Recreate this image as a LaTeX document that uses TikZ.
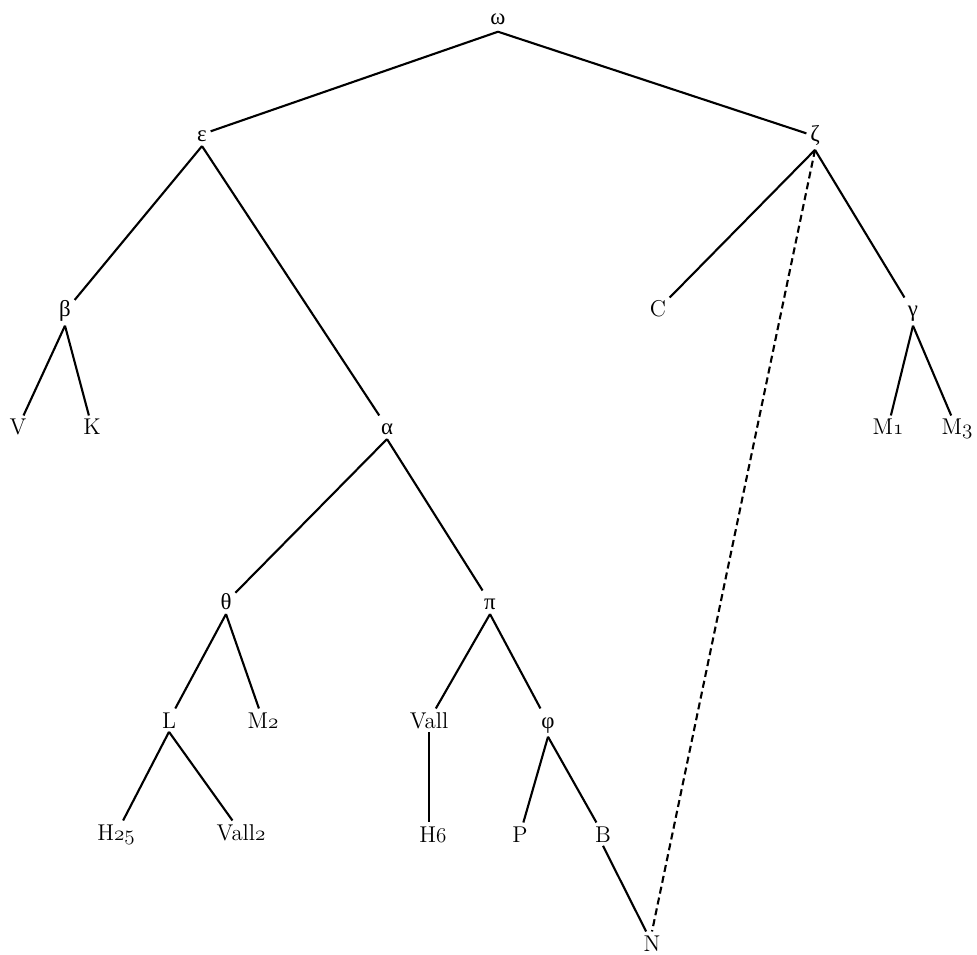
\documentclass[tikz,border=0pt]{standalone}
\usepackage{amsmath}
\usepackage{fontspec}
\usepackage{tikz}
\usetikzlibrary{positioning}

\newfontfamily\grk{Liberation Serif}
\newcommand{\wit}[2]{#1$\mathnormal{#2}$}

\begin{document}
\begin{tikzpicture}[
    x=0.02cm, y=-0.02cm,
    ms/.style={anchor=base, inner sep=2pt, text height=8.9pt, font=\fontsize{13}{15}\selectfont},
    hyp/.style={ms, font=\fontsize{13}{15}\selectfont\grk},
    stem/.style={draw=black, line width=1.2pt},
    lost/.style={draw=black, line width=1.2pt, dash pattern=on 4pt off 2.3pt}
]
    \useasboundingbox (0,0) rectangle (977,955);

    % hyparchetypes
    \node[hyp, inner sep=3.5pt] (omega) at (498,25) {ω};
    \node[hyp] (eps) at (202,142) {ε};
    \node[hyp] (zeta) at (815,142) {ζ};
    \node[hyp] (beta) at (65,317) {β};
    \node[hyp] (gamma) at (913,317) {γ};
    \node[hyp] (alpha) at (387,435) {α};
    \node[hyp] (theta) at (226,610) {θ};
    \node[hyp] (pi) at (490,610) {π};
    \node[hyp] (phi) at (548,728) {φ};

    % manuscripts
    \node[ms] (C) at (658,317) {C};
    \node[ms] (V) at (18,435) {V};
    \node[ms] (K) at (92,435) {K};
    \node[ms] (M1) at (888,435) {\wit{M}{1}};
    \node[ms] (M3) at (957,435) {\wit{M}{3}};
    \node[ms] (L) at (169,728) {L};
    \node[ms] (M2) at (263,728) {\wit{M}{2}};
    \node[ms] (vall) at (429,728) {Vall};
    \node[ms] (H25) at (116,840) {\wit{H}{25}};
    \node[ms] (vallb) at (241,840) {\wit{Vall}{2}};
    \node[ms] (H6) at (433,842) {\wit{H}{6}};
    \node[ms] (P) at (520,842) {P};
    \node[ms] (B) at (603,842) {B};
    \node[ms] (N) at (652,951) {N};

    % filiation
    \draw[stem] (omega.south) -- (eps);
    \draw[stem] (omega.south) -- (zeta);
    \draw[stem] (eps.south) -- (beta);
    \draw[stem] (eps.south) -- (alpha);
    \draw[stem] (beta.south) -- (V);
    \draw[stem] (beta.south) -- (K);
    \draw[stem] (zeta.south) -- (C);
    \draw[stem] (zeta.south) -- (gamma);
    \draw[stem] (gamma.south) -- (M1);
    \draw[stem] (gamma.south) -- (M3);
    \draw[stem] (alpha.south) -- (theta);
    \draw[stem] (alpha.south) -- (pi);
    \draw[stem] (theta.south) -- (L);
    \draw[stem] (theta.south) -- (M2);
    \draw[stem] (L.south) -- (H25);
    \draw[stem] (L.south) -- (vallb);
    \draw[stem] (pi.south) -- (vall);
    \draw[stem] (pi.south) -- (phi);
    \draw[stem] (vall.south) -- (vall.south |- H6.north);
    \draw[stem] (phi.south) -- (P);
    \draw[stem] (phi.south) -- (B);
    \draw[stem] (B.south) -- (N);
    \draw[lost] (zeta.south) -- (N.north);
\end{tikzpicture}
\end{document}
